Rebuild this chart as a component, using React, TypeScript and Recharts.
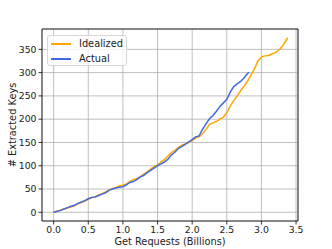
import { CartesianGrid, LineChart, Line, ReferenceArea, XAxis, YAxis } from "recharts";

const idealizedX = [
  0, 0.05, 0.1, 0.15, 0.2, 0.25, 0.3, 0.35, 0.4, 0.45, 0.5, 0.55, 0.6, 0.65, 0.7, 0.75, 0.8, 0.85, 0.9, 0.95,
  1.0, 1.05, 1.1, 1.15, 1.2, 1.25, 1.3, 1.35, 1.4, 1.45, 1.5, 1.55, 1.6, 1.65, 1.7, 1.75, 1.8, 1.85, 1.9, 1.95,
  2.0, 2.05, 2.1, 2.15, 2.2, 2.25, 2.3, 2.35, 2.4, 2.45, 2.5, 2.55, 2.6, 2.65, 2.7, 2.75, 2.8, 2.85, 2.9, 2.95,
  3.0, 3.05, 3.1, 3.15, 3.2, 3.25, 3.3, 3.35, 3.38,
];
const idealizedY = [
  0, 2, 5, 7, 9, 11, 14, 18, 21, 24, 28, 31, 33, 37, 40, 44, 48, 51, 53, 57,
  58, 61, 66, 70, 72, 76, 82, 87, 93, 98, 101, 108, 113, 121, 128, 133, 139, 144, 147, 150,
  154, 160, 162, 168, 178, 189, 192, 195, 200, 204, 214, 228, 240, 250, 261, 271, 282, 295, 308, 325,
  334, 336, 337, 340, 343, 348, 356, 368, 375,
];

const actualX = [
  0, 0.05, 0.1, 0.15, 0.2, 0.25, 0.3, 0.35, 0.4, 0.45, 0.5, 0.55, 0.6, 0.65, 0.7, 0.75, 0.8, 0.85, 0.9, 0.95,
  1.0, 1.05, 1.1, 1.15, 1.2, 1.25, 1.3, 1.35, 1.4, 1.45, 1.5, 1.55, 1.6, 1.65, 1.7, 1.75, 1.8, 1.85, 1.9, 1.95,
  2.0, 2.05, 2.1, 2.15, 2.2, 2.25, 2.3, 2.35, 2.4, 2.45, 2.5, 2.55, 2.6, 2.65, 2.7, 2.75, 2.8, 2.82,
];
const actualY = [
  0, 2, 4, 7, 10, 13, 15, 19, 22, 25, 29, 32, 33, 36, 39, 42, 47, 50, 52, 54,
  55, 59, 64, 66, 70, 76, 79, 85, 90, 95, 100, 104, 108, 114, 123, 129, 137, 141, 146, 151,
  156, 162, 164, 178, 190, 201, 208, 217, 227, 235, 242, 258, 270, 276, 281, 289, 298, 301,
];

const xTicks = [0, 0.5, 1.0, 1.5, 2.0, 2.5, 3.0, 3.5];
const yTicks = [0, 50, 100, 150, 200, 250, 300, 350];

const series = [
  { name: "Idealized", color: "#FFA500" },
  { name: "Actual", color: "#4169E1" },
];

const idealized = idealizedX.map((x, i) => ({ x, y: idealizedY[i] }));
const actual = actualX.map((x, i) => ({ x, y: actualY[i] }));

const xDomain = [-0.168, 3.528];
const yDomain = [-18.75, 393.75];

const font = "DejaVu Sans, sans-serif";
const tickStyle = { fontSize: 9.3, fill: "#222", fontFamily: font };

function YLabel(props: any) {
  const vb = props.viewBox;
  const cx = 12;
  const cy = vb.y + vb.height / 2;
  return (
    <text x={cx} y={cy} transform={`rotate(-90, ${cx}, ${cy})`} textAnchor="middle" dominantBaseline="central"
      fontSize={9.8} fill="#222" fontFamily={font}>
      # Extracted Keys
    </text>
  );
}

function XLabel(props: any) {
  const vb = props.viewBox;
  return (
    <text x={vb.x + vb.width / 2} y={245} textAnchor="middle" fontSize={9.8} fill="#222" fontFamily={font}>
      Get Requests (Billions)
    </text>
  );
}

export default function App() {
  return (
    <div style={{ position: "absolute", left: 0, top: 0, width: 332, height: 249, background: "#fff" }}>
      <LineChart width={332} height={249} margin={{ top: 29, right: 34, bottom: 0, left: 0 }}>
        <CartesianGrid stroke="#b0b0b0" strokeWidth={0.8} />
        <XAxis
          type="number"
          dataKey="x"
          domain={xDomain}
          allowDataOverflow
          ticks={xTicks}
          tickFormatter={(v: number) => v.toFixed(1)}
          height={28}
          tick={tickStyle}
          tickSize={3.5}
          tickMargin={2}
          tickLine={{ stroke: "#000", strokeWidth: 0.8 }}
          axisLine={false}
          label={<XLabel />}
        />
        <YAxis
          type="number"
          dataKey="y"
          domain={yDomain}
          allowDataOverflow
          ticks={yTicks}
          width={42}
          tick={tickStyle}
          tickSize={3.5}
          tickMargin={2}
          tickLine={{ stroke: "#000", strokeWidth: 0.8 }}
          axisLine={false}
          label={<YLabel />}
        />
        <Line data={idealized} dataKey="y" name={series[0].name} type="linear" stroke={series[0].color}
          strokeWidth={1.5} dot={false} isAnimationActive={false} />
        <Line data={actual} dataKey="y" name={series[1].name} type="linear" stroke={series[1].color}
          strokeWidth={1.5} dot={false} isAnimationActive={false} />
        <ReferenceArea x1={xDomain[0]} x2={xDomain[1]} y1={yDomain[0]} y2={yDomain[1]}
          fill="none" fillOpacity={0} stroke="#000" strokeWidth={0.8} ifOverflow="visible" />
      </LineChart>
      <div
        style={{
          position: "absolute",
          left: 47,
          top: 35,
          width: 80,
          height: 31,
          boxSizing: "border-box",
          border: "1px solid #d6d6d6",
          borderRadius: 3,
          background: "rgba(255,255,255,0.8)",
          fontFamily: font,
          fontSize: 9.8,
          color: "#222",
        }}
      >
        {series.map((s, i) => (
          <div key={s.name} style={{ position: "absolute", left: 3, top: 2 + i * 15, height: 12, display: "flex", alignItems: "center" }}>
            <span style={{ display: "inline-block", width: 20, height: 1.5, background: s.color }} />
            <span style={{ marginLeft: 8, lineHeight: "12px" }}>{s.name}</span>
          </div>
        ))}
      </div>
    </div>
  );
}
